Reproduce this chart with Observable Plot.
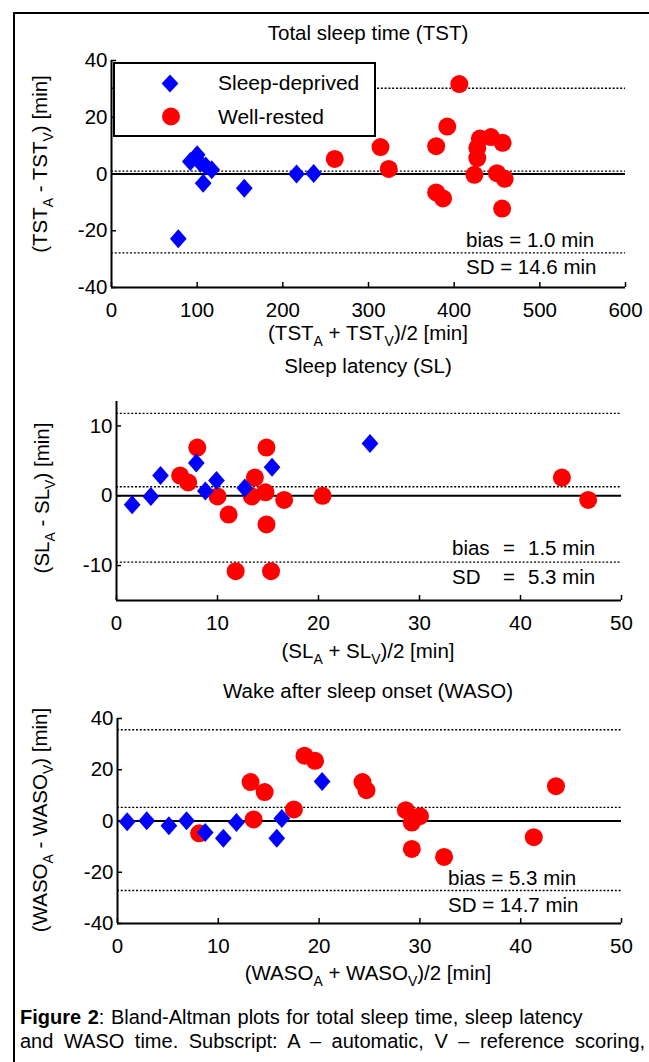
<!DOCTYPE html>
<html>
<head>
<meta charset="utf-8">
<script src="https://cdn.jsdelivr.net/npm/d3@7"></script>
<script src="https://cdn.jsdelivr.net/npm/@observablehq/plot@0.6"></script>
<style>
  body { margin: 0; background: #fff; }
  #page { position: relative; width: 649px; height: 1062px; overflow: hidden; background: #fff;
          font-family: "Liberation Sans", Arial, sans-serif; color: #000; }
  .abs { position: absolute; white-space: nowrap; }
  .ctr { text-align: center; }
  .sub { font-size: 0.68em; position: relative; top: 0.42em; }
  svg.plot { position: absolute; left: 0; }
</style>
</head>
<body>
<div id="page">
  <div class="abs" style="left:13px;top:12px;width:700px;height:1100px;border:2px solid #000;box-sizing:border-box;"></div>
</div>
<script>
// ---------- data ----------
// Panel 1: Total sleep time (TST)
const tstDeprivedMean = [78, 92, 100, 104, 107, 110, 117, 155, 216, 236];
const tstDeprivedDiff = [-22.8, 4.4, 6.8, 3.8, -3.3, 2.8, 1.5, -5.0, 0.0, 0.2];
const tstRestedMean = [260.6, 314, 323.6, 406, 392, 379, 379, 387, 430, 443, 456.6, 427, 427, 423.6, 450, 459, 456];
const tstRestedDiff = [5.3, 9.5, 1.8, 31.7, 16.7, 9.8, -6.5, -8.6, 12.5, 13.0, 11.0, 9.2, 5.6, -0.3, 0.3, -1.7, -12.2];
const tstLimits = [30.2, 1.0, -27.8];
const tstXTicks = [0, 100, 200, 300, 400, 500, 600];
const tstYTicks = [-40, -20, 0, 20, 40];

// Panel 2: Sleep latency (SL)
const slDeprivedMean = [1.55, 3.4, 4.36, 7.9, 8.8, 9.9, 12.7, 15.4, 25.1];
const slDeprivedDiff = [-1.3, -0.1, 2.9, 4.7, 0.7, 2.2, 1.1, 4.1, 7.5];
const slRestedMean = [8.0, 6.3, 7.1, 10.0, 11.1, 11.8, 13.7, 13.4, 14.75, 14.85, 14.85, 15.3, 16.6, 20.4, 44.1, 46.7];
const slRestedDiff = [6.9, 2.9, 1.9, -0.1, -2.7, -10.8, 2.6, -0.1, 0.5, 6.9, -4.1, -10.8, -0.6, 0.0, 2.6, -0.6];
const slLimits = [11.8, 1.3, -9.5];
const slXTicks = [0, 10, 20, 30, 40, 50];
const slYTicks = [-10, 0, 10];

// Panel 3: Wake after sleep onset (WASO)
const wasoDeprivedMean = [0.96, 2.9, 5.1, 6.85, 8.7, 10.5, 11.8, 15.8, 16.3, 20.3];
const wasoDeprivedDiff = [-0.3, 0.1, -1.9, 0.1, -4.5, -6.7, -0.6, -6.7, 1.0, 15.4];
const wasoRestedMean = [8.1, 13.2, 14.6, 13.5, 17.5, 18.55, 19.6, 24.3, 24.7, 28.6, 30.0, 29.2, 29.2, 32.4, 41.3, 43.5];
const wasoRestedDiff = [-4.8, 15.2, 11.3, 0.6, 4.5, 25.5, 23.5, 15.2, 12.0, 4.2, 1.9, -0.6, -10.9, -14.0, -6.3, 13.6];
const wasoLimits = [35.6, 5.3, -27.1];
const wasoXTicks = [0, 10, 20, 30, 40, 50];
const wasoYTicks = [-40, -20, 0, 20, 40];

// ---------- helpers ----------
const FONT = '"Liberation Sans", Arial, sans-serif';
const page = document.getElementById("page");
const diamond = {
  draw(ctx, size) {
    const r = Math.sqrt(size / Math.PI);
    const h = r, w = r * 0.88;
    ctx.moveTo(0, -h); ctx.lineTo(w, 0); ctx.lineTo(0, h); ctx.lineTo(-w, 0); ctx.closePath();
  }
};
const zip = (xs, ys) => xs.map((x, i) => ({x, y: ys[i]}));

function addHTML(html) {
  const t = document.createElement("template");
  t.innerHTML = html.trim();
  const el = t.content.firstChild;
  page.appendChild(el);
  return el;
}

function panel(cfg) {
  const {top, height, ml, mr, mt, mb, xDomain, yDomain, xTicks, yTicks, limits, dep, rest} = cfg;
  const chart = Plot.plot({
    width: 649, height,
    marginLeft: ml, marginRight: mr, marginTop: mt, marginBottom: mb,
    style: {fontFamily: FONT, fontSize: "20.5px", color: "#000", background: "transparent", overflow: "visible"},
    x: {domain: xDomain},
    y: {domain: yDomain},
    marks: [
      Plot.ruleY(limits, {stroke: "#000", strokeWidth: 1.4, strokeDasharray: "2,1.8"}),
      Plot.ruleY([0], {stroke: "#000", strokeWidth: 2}),
      Plot.ruleX([xDomain[0]], {stroke: "#000", strokeWidth: 2}),
      Plot.ruleY([yDomain[0]], {stroke: "#000", strokeWidth: 2}),
      Plot.axisX({ticks: xTicks, tickFormat: d => String(d), tickSize: -5, tickPadding: 20, strokeWidth: 1.5, label: null}),
      Plot.axisY({ticks: yTicks, tickFormat: d => String(d), tickSize: -5, tickPadding: 9, strokeWidth: 1.5, label: null}),
      Plot.dot(rest, {x: "x", y: "y", r: 9, fill: "#ff0000", stroke: null}),
      Plot.dot(dep, {x: "x", y: "y", r: 9.5, symbol: diamond, fill: "#0000ff", stroke: null})
    ]
  });
  chart.classList.add("plot");
  chart.style.top = top + "px";
  page.appendChild(chart);
}

// ---------- panels ----------
panel({top: 40, height: 300, ml: 111, mr: 24, mt: 20, mb: 53,
  xDomain: [0, 600], yDomain: [-40, 40], xTicks: tstXTicks, yTicks: tstYTicks, limits: tstLimits,
  dep: zip(tstDeprivedMean, tstDeprivedDiff), rest: zip(tstRestedMean, tstRestedDiff)});
panel({top: 380, height: 260, ml: 116, mr: 28, mt: 21, mb: 40,
  xDomain: [0, 50], yDomain: [-15, 13.5], xTicks: slXTicks, yTicks: slYTicks, limits: slLimits,
  dep: zip(slDeprivedMean, slDeprivedDiff), rest: zip(slRestedMean, slRestedDiff)});
panel({top: 700, height: 260, ml: 117, mr: 28, mt: 18, mb: 37,
  xDomain: [0, 50], yDomain: [-40, 40], xTicks: wasoXTicks, yTicks: wasoYTicks, limits: wasoLimits,
  dep: zip(wasoDeprivedMean, wasoDeprivedDiff), rest: zip(wasoRestedMean, wasoRestedDiff)});

// ---------- text ----------
function centered(text, cx, cy, size = 20.5) {
  addHTML(`<div class="abs ctr" style="left:${cx - 250}px;top:${cy - 12}px;width:500px;line-height:24px;font-size:${size}px">${text}</div>`);
}
function ylabel(text, cx, cy) {
  addHTML(`<div class="abs ctr" style="left:${cx - 200}px;top:${cy - 12}px;width:400px;height:24px;line-height:24px;font-size:20.5px;transform:rotate(-90deg);transform-origin:50% 50%">${text}</div>`);
}
function leftText(text, x, cy) {
  addHTML(`<div class="abs" style="left:${x}px;top:${cy - 12}px;line-height:24px;font-size:20.5px;white-space:pre">${text}</div>`);
}
const sub = s => `<span class="sub">${s}</span>`;

centered("Total sleep time (TST)", 368, 33);
centered(`(TST${sub("A")} + TST${sub("V")})/2 [min]`, 368, 333);
ylabel(`(TST${sub("A")} - TST${sub("V")}) [min]`, 40, 164);
leftText("bias = 1.0 min", 466, 240);
leftText("SD = 14.6 min", 466, 267);

centered("Sleep latency (SL)", 368, 366);
centered(`(SL${sub("A")} + SL${sub("V")})/2 [min]`, 368, 651);
ylabel(`(SL${sub("A")} - SL${sub("V")}) [min]`, 42, 498);
addHTML(`<div class="abs" style="left:452px;top:536px;line-height:24px;font-size:20.5px"><span style="display:inline-block;width:51px">bias</span><span style="display:inline-block;width:25px">=</span>1.5 min</div>`);
addHTML(`<div class="abs" style="left:452px;top:565px;line-height:24px;font-size:20.5px"><span style="display:inline-block;width:51px">SD</span><span style="display:inline-block;width:25px">=</span>5.3 min</div>`);

centered("Wake after sleep onset (WASO)", 368, 691);
centered(`(WASO${sub("A")} + WASO${sub("V")})/2 [min]`, 368, 973);
ylabel(`(WASO${sub("A")} - WASO${sub("V")}) [min]`, 40, 820);
leftText("bias = 5.3 min", 448, 878);
leftText("SD = 14.7 min", 448, 905);

// legend
addHTML(`<div class="abs" style="left:113px;top:62px;width:263px;height:75px;border:2px solid #000;box-sizing:border-box;background:#fff">
  <svg width="40" height="60" style="position:absolute;left:35px;top:0px;overflow:visible">
    <path d="M20,10.5 L28.4,19.5 L20,28.5 L11.6,19.5 Z" fill="#0000ff"/>
    <circle cx="21" cy="52.5" r="9" fill="#ff0000"/>
  </svg>
  <div class="abs" style="left:103px;top:7px;line-height:24px;font-size:21px">Sleep-deprived</div>
  <div class="abs" style="left:103px;top:41px;line-height:24px;font-size:21px">Well-rested</div>
</div>`);

// caption
addHTML(`<div class="abs" style="left:20px;top:1005px;line-height:24px;font-size:20px;white-space:nowrap"><div style="word-spacing:1px"><b>Figure 2</b>: Bland-Altman plots for total sleep time, sleep latency</div><div style="word-spacing:5px">and WASO time. Subscript: A – automatic, V – reference scoring,</div></div>`);
</script>
</body>
</html>
